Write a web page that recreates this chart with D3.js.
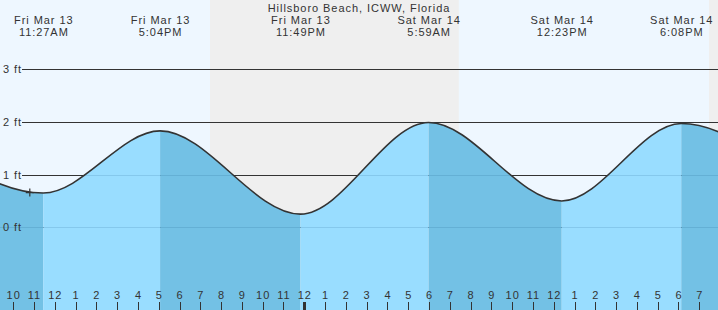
<!DOCTYPE html>
<html>
<head>
<meta charset="utf-8">
<script src="https://cdn.jsdelivr.net/npm/d3@7"></script>
<style>
  body { margin: 0; background: #fff; }
  svg { display: block; font-family: "Liberation Sans", Arial, sans-serif; }
  svg text { letter-spacing: 0.95px; }
</style>
</head>
<body>
<div id="chart"></div>
<script>
let width = 718, height = 310;

// high / low tide extremes (first and last are just off the chart edges)
let tide_times = ["2026-03-13 04:59", "2026-03-13 11:27", "2026-03-13 17:04", "2026-03-13 23:49",
                  "2026-03-14 05:59", "2026-03-14 12:23", "2026-03-14 18:08", "2026-03-15 01:00"];
let tide_heights = [1.90, 0.65, 1.83, 0.25, 1.99, 0.50, 1.97, 0.30];
let tide_types = ["H", "L", "H", "L", "H", "L", "H", "L"];

// night bands (sunset -> sunrise)
let night_starts = ["2026-03-13 19:28", "2026-03-14 19:28"];
let night_ends = ["2026-03-14 07:26", "2026-03-15 07:26"];

let y_ticks = [0, 1, 2, 3];
let now_time = "2026-03-13 10:48", now_height = 0.66;
let title_text = "Hillsboro Beach, ICWW, Florida";

let parse = d3.timeParse("%Y-%m-%d %H:%M");
let tides = tide_times.map(function(t, i) {
    return {time: parse(t), height: tide_heights[i], type: tide_types[i]};
});

let x = d3.scaleTime()
    .domain([parse("2026-03-13 09:22"), parse("2026-03-14 19:54")])
    .range([0, width]);

let y = d3.scaleLinear()
    .domain([0, 3])
    .range([227.3, 69.3]);

let svg = d3.select("#chart")
    .append("svg")
    .attr("width", width)
    .attr("height", height);

// day background
svg.append("rect")
    .attr("width", width).attr("height", height)
    .attr("fill", "#eef7ff");

// night bands
svg.selectAll(".night")
    .data(night_starts)
    .enter()
    .append("rect")
    .attr("class", "night")
    .attr("x", function(d) { return x(parse(d)); })
    .attr("y", 0)
    .attr("width", function(d, i) { return x(parse(night_ends[i])) - x(parse(d)); })
    .attr("height", height)
    .attr("fill", "#efefef");

// grid lines (above the water)
svg.selectAll(".grid")
    .data(y_ticks)
    .enter()
    .append("line")
    .attr("x1", 22).attr("x2", width)
    .attr("y1", function(d) { return Math.round(y(d)) + 0.5; })
    .attr("y2", function(d) { return Math.round(y(d)) + 0.5; })
    .attr("stroke", "#333")
    .attr("stroke-width", 1);

let area = d3.area()
    .x(function(d) { return x(d.time); })
    .y0(height)
    .y1(function(d) { return y(d.height); })
    .curve(d3.curveMonotoneX);

let line = d3.line()
    .x(function(d) { return x(d.time); })
    .y(function(d) { return y(d.height); })
    .curve(d3.curveMonotoneX);

svg.append("clipPath")
    .attr("id", "water")
    .append("path")
    .attr("d", area(tides));

// rising water light, falling water dark
let water = svg.append("g").attr("clip-path", "url(#water)");
water.selectAll("rect")
    .data(tides.slice(0, -1))
    .enter()
    .append("rect")
    .attr("x", function(d) { return x(d.time); })
    .attr("y", 0)
    .attr("width", function(d, i) { return x(tides[i + 1].time) - x(d.time); })
    .attr("height", height)
    .attr("fill", function(d) { return d.type == "H" ? "#73c1e5" : "#99ddff"; });

// faint grid lines through the water
water.selectAll("line")
    .data(y_ticks)
    .enter()
    .append("line")
    .attr("x1", 0).attr("x2", width)
    .attr("y1", function(d) { return Math.round(y(d)) + 0.5; })
    .attr("y2", function(d) { return Math.round(y(d)) + 0.5; })
    .attr("stroke", "rgba(0,60,110,0.13)");

svg.append("path")
    .attr("d", line(tides))
    .attr("fill", "none")
    .attr("stroke", "#333")
    .attr("stroke-width", 1.6);

// y labels
svg.selectAll(".ylab")
    .data(y_ticks)
    .enter()
    .append("text")
    .attr("x", 3)
    .attr("y", function(d) { return y(d) + 4; })
    .attr("font-size", 11)
    .attr("fill", "#333")
    .text(function(d) { return d + " ft"; });

// current time marker
let nx = x(parse(now_time)), ny = y(now_height);
svg.append("path")
    .attr("d", `M${nx - 4},${ny}H${nx + 4}M${nx},${ny - 4}V${ny + 4}`)
    .attr("stroke", "#333")
    .attr("stroke-width", 1.2);

// hour ticks along the bottom
let hours = x.ticks(d3.timeHour.every(1));
let fmtHour = d3.timeFormat("%-I");
let axis = svg.append("g");
axis.selectAll("line")
    .data(hours)
    .enter()
    .append("line")
    .attr("x1", function(d) { return Math.round(x(d)) + 0.5; })
    .attr("x2", function(d) { return Math.round(x(d)) + 0.5; })
    .attr("y1", 302).attr("y2", height)
    .attr("stroke", "#333")
    .attr("stroke-width", function(d) { return d.getHours() == 0 ? 3 : 1; });
axis.selectAll("text")
    .data(hours)
    .enter()
    .append("text")
    .attr("x", function(d) { return x(d) + 0.5; })
    .attr("y", 299)
    .attr("text-anchor", "middle")
    .attr("font-size", 11)
    .attr("fill", "#333")
    .text(function(d) { return fmtHour(d); });

// extreme labels along the top
let fmtDay = d3.timeFormat("%a %b %-d");
let fmtTime = d3.timeFormat("%-I:%M%p");
let shown = tides.filter(function(d) { return x(d.time) >= 0 && x(d.time) <= width; });
let labels = svg.selectAll(".ext")
    .data(shown)
    .enter()
    .append("g")
    .attr("transform", function(d) { return `translate(${x(d.time) + 0.5},0)`; });
labels.append("text")
    .attr("y", 24)
    .attr("text-anchor", "middle")
    .attr("font-size", 11)
    .attr("fill", "#333")
    .text(function(d) { return fmtDay(d.time); });
labels.append("text")
    .attr("y", 36.3)
    .attr("text-anchor", "middle")
    .attr("font-size", 11)
    .attr("fill", "#333")
    .text(function(d) { return fmtTime(d.time); });

svg.append("text")
    .attr("x", 359)
    .attr("y", 11.5)
    .attr("text-anchor", "middle")
    .attr("font-size", 11)
    .attr("fill", "#333")
    .text(title_text);
</script>
</body>
</html>
